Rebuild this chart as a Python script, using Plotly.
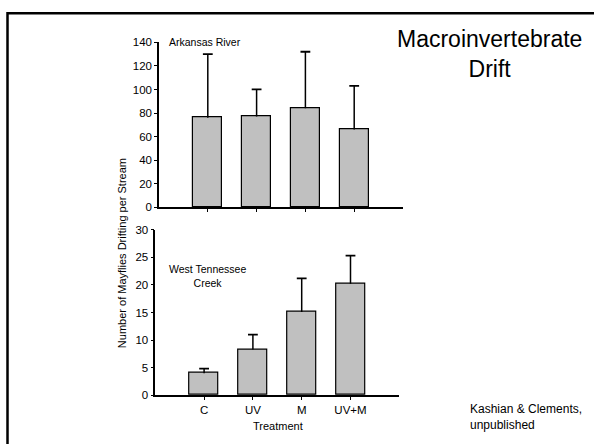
import plotly.graph_objects as go

W, H = 594, 444

treatments = ["C", "UV", "M", "UV+M"]
arkansas_mean = [76, 77, 84, 66]
arkansas_err = [54, 23, 48, 37]
wtc_mean = [4.0, 8.3, 15.1, 20.2]
wtc_err = [0.8, 2.7, 6.1, 5.1]

top_ticks = [0, 20, 40, 60, 80, 100, 120, 140]
bot_ticks = [0, 5, 10, 15, 20, 25, 30]

FONT = "Liberation Sans, Arial, sans-serif"
BAR = "#c0c0c0"


def px_x(p):
    return p / W


def px_y(p):
    return 1 - p / H


fig = go.Figure()


def add_panel(means, errs, xa, ya):
    fig.add_trace(go.Bar(
        x=treatments, y=means, xaxis=xa, yaxis=ya,
        marker=dict(color=BAR, line=dict(color="black", width=1.2)),
        width=0.6, showlegend=False, hoverinfo="skip",
    ))
    # upper-only error bars: stem from bar top upward, cap at top
    ex, ey = [], []
    for c, m, e in zip(treatments, means, errs):
        ex += [c, c, None]
        ey += [m, m + e, None]
    fig.add_trace(go.Scatter(
        x=ex, y=ey, xaxis=xa, yaxis=ya, mode="lines",
        line=dict(color="black", width=1.5), showlegend=False,
        hoverinfo="skip",
    ))
    fig.add_trace(go.Scatter(
        x=treatments, y=[m + e for m, e in zip(means, errs)],
        xaxis=xa, yaxis=ya, mode="markers",
        marker=dict(symbol="line-ew", size=7,
                    line=dict(color="black", width=1.8)),
        showlegend=False, hoverinfo="skip",
    ))


add_panel(arkansas_mean, arkansas_err, "x", "y")
add_panel(wtc_mean, wtc_err, "x2", "y2")

axis_common = dict(showline=True, linecolor="black", linewidth=1.5,
                   showgrid=False, zeroline=False, ticks="outside",
                   tickcolor="black", ticklen=3, tickwidth=1,
                   tickfont=dict(family=FONT, size=11.5, color="black"))

fig.update_layout(
    width=W, height=H,
    margin=dict(l=0, r=0, t=0, b=0),
    paper_bgcolor="white", plot_bgcolor="white",
    font=dict(family=FONT, color="black"),
    bargap=0,
    xaxis=dict(domain=[px_x(159), px_x(403)], anchor="y",
               type="category", range=[-1, 4], showticklabels=False,
               **axis_common),
    yaxis=dict(domain=[px_y(207), px_y(37.3)], anchor="x",
               range=[0, 140], tickvals=top_ticks, **axis_common),
    xaxis2=dict(domain=[px_x(155.3), px_x(399.3)], anchor="y2",
                type="category", range=[-1, 4], tickvals=treatments,
                ticktext=treatments, **axis_common),
    yaxis2=dict(domain=[px_y(400), px_y(230)], anchor="x2",
                range=[0, 30], tickvals=bot_ticks, **axis_common),
)

ann = [
    dict(text="Arkansas River", x=px_x(167), y=px_y(37), xanchor="left",
         yanchor="middle", font=dict(size=10.5)),
    dict(text="West Tennessee<br>Creek", x=px_x(207), y=px_y(278),
         xanchor="center", yanchor="middle", font=dict(size=10.5)),
    dict(text="Macroinvertebrate<br>Drift", x=px_x(489), y=px_y(49),
         xanchor="center", yanchor="middle", font=dict(size=23)),
    dict(text="Kashian & Clements,<br>unpublished", x=px_x(468), y=px_y(422),
         xanchor="left", yanchor="middle", align="left", font=dict(size=12)),
    dict(text="Treatment", x=px_x(278), y=px_y(432), xanchor="center",
         yanchor="middle", font=dict(size=11)),
    dict(text="Number of Mayflies Drifting per Stream", x=px_x(122),
         y=px_y(254), xanchor="center", yanchor="middle", textangle=-90,
         font=dict(size=11)),
]
for a in ann:
    a.update(xref="paper", yref="paper", showarrow=False)
    a["font"].update(family=FONT, color="black")
fig.update_layout(annotations=ann)

fig.add_shape(type="rect", xref="paper", yref="paper",
              x0=px_x(7.5), x1=1.2, y0=-0.2, y1=px_y(7.5),
              line=dict(color="black", width=2.5), fillcolor="rgba(0,0,0,0)")

fig.write_html("out.html")
